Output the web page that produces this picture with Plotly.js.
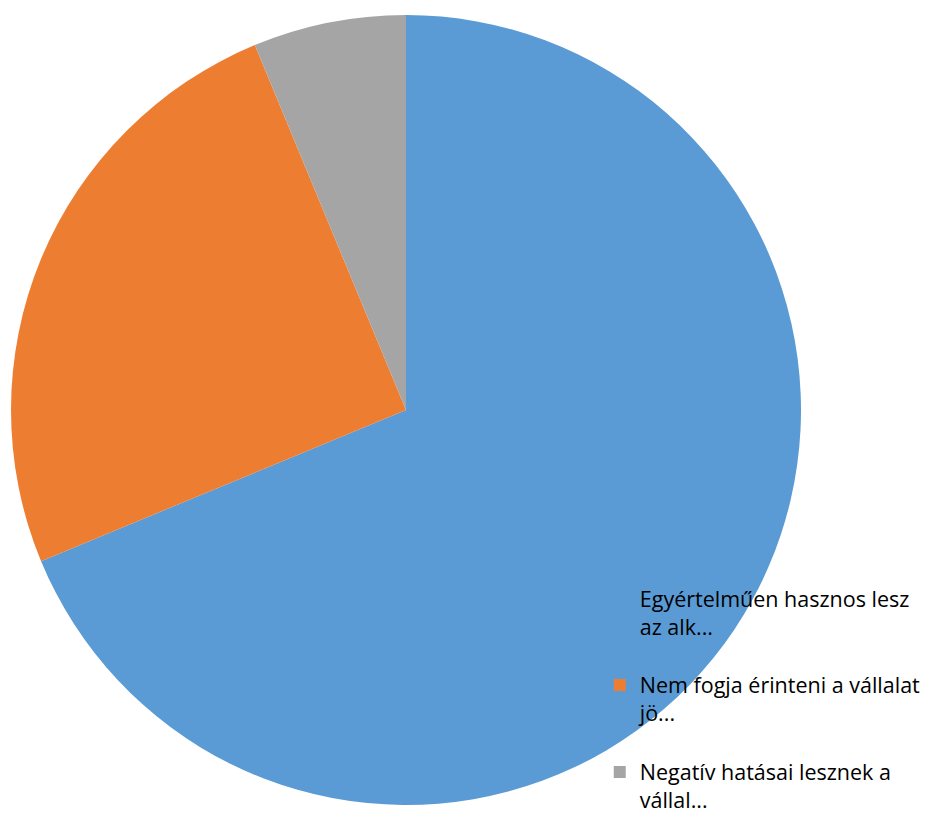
<!DOCTYPE html>
<html>
<head>
<meta charset="utf-8">
<script src="https://cdn.plot.ly/plotly-3.0.1.min.js"></script>
<style>html,body{margin:0;padding:0;background:#fff;}#chart{width:952px;height:816px;}</style>
</head>
<body>
<div id="chart"></div>
<script>
const categories = [
  "Egyértelműen hasznos lesz<br>az alk...<br> ",
  "Nem fogja érinteni a vállalat<br>jö...<br> ",
  "Negatív hatásai lesznek a<br>vállal..."
];
const values = [11, 4, 1];
const colors = ["#5B9BD5", "#ED7D31", "#A5A5A5"];

const trace = {
  type: "pie",
  labels: categories,
  values: values,
  sort: false,
  direction: "clockwise",
  rotation: 0,
  textinfo: "none",
  hoverinfo: "label+percent",
  marker: { colors: colors, line: { width: 0 } },
  domain: { x: [11/952, 801/952], y: [11/816, 801/816] }
};

const layout = {
  width: 952,
  height: 816,
  margin: { l: 0, r: 0, t: 0, b: 0, autoexpand: false },
  paper_bgcolor: "#ffffff",
  showlegend: true,
  legend: {
    x: 0.630, y: 0.292, xanchor: "left", yanchor: "top",
    bgcolor: "rgba(0,0,0,0)",
    valign: "top",
    font: { family: "'Open Sans', Lato, sans-serif", size: 21.5, color: "#000000" },
    itemwidth: 30
  }
};

Plotly.newPlot("chart", [trace], layout, { displayModeBar: false, staticPlot: true });
</script>
</body>
</html>
